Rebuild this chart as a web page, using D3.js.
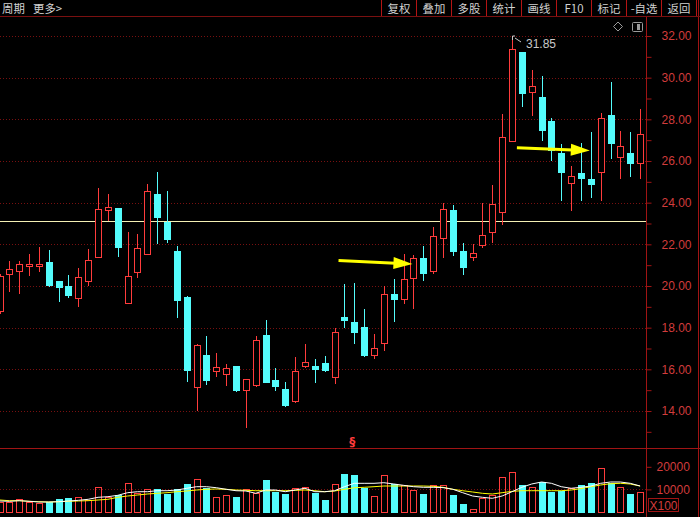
<!DOCTYPE html>
<html><head><meta charset="utf-8">
<script src="https://cdn.jsdelivr.net/npm/d3@7"></script>
<style>html,body{margin:0;padding:0;background:#000;overflow:hidden}</style>
</head><body>
<svg id="c" width="700" height="517"></svg>
<script>
// ---- data ----
const opens  = [18.82,20.60,20.70,20.94,20.98,21.15,20.22,19.98,19.42,20.26,21.41,23.65,23.74,19.18,20.65,21.53,24.42,23.05,21.70,19.45,15.13,16.70,15.90,15.77,16.17,14.99,15.26,17.66,15.50,15.07,14.46,16.14,16.17,16.30,15.63,18.49,18.27,18.01,16.70,17.26,19.61,19.37,20.38,21.34,20.70,22.30,23.65,21.70,21.41,21.98,22.57,23.53,26.98,31.25,29.30,29.09,27.94,26.40,24.96,25.44,25.13,25.49,28.21,26.18,26.37,25.89];
const highs  = [20.60,21.21,21.18,21.54,21.89,21.74,20.25,20.54,20.86,21.77,24.70,24.42,23.74,22.61,22.50,24.90,25.46,24.57,21.93,19.50,17.23,17.61,16.78,16.27,16.17,15.53,17.58,18.38,16.06,15.39,16.57,17.23,16.49,16.62,17.98,20.11,20.14,18.91,17.71,19.98,20.33,21.54,21.50,21.93,22.85,24.00,23.89,22.06,22.02,23.97,24.85,28.24,31.85,31.25,30.37,30.08,28.05,26.82,25.76,26.88,27.41,28.29,29.81,27.44,27.41,28.48];
const lows   = [18.70,19.78,19.66,20.54,20.74,19.98,19.26,19.47,19.02,20.06,21.41,23.17,21.45,19.18,20.43,21.53,22.06,22.09,18.49,15.42,14.03,15.29,15.69,15.26,14.94,13.23,15.18,15.37,15.02,14.25,14.41,16.09,15.37,15.93,15.34,18.03,17.26,16.62,16.54,16.94,18.30,19.18,18.94,20.30,20.62,21.41,21.50,20.59,21.26,21.89,22.09,22.98,26.98,28.64,28.21,27.01,26.05,24.13,23.65,24.13,24.26,24.13,26.13,25.20,25.29,25.18];
const closes = [20.46,20.83,21.05,21.05,21.05,20.06,19.93,19.58,20.43,21.26,23.69,23.78,21.89,20.50,21.82,24.58,23.33,22.26,19.34,15.98,17.18,15.50,16.11,16.06,15.02,15.53,17.42,15.37,15.18,14.30,15.93,16.35,16.03,15.98,17.79,18.38,17.77,16.67,17.02,19.61,19.37,20.33,21.34,20.62,22.42,23.69,21.70,20.93,21.58,22.46,23.94,27.14,31.36,29.28,29.60,27.49,26.53,25.49,25.29,25.18,24.89,28.05,26.85,26.74,25.92,27.29];
const volumes = [4560,4420,5620,4420,4120,4560,5620,6060,6500,5310,10930,6770,7520,12700,8540,10040,10040,7960,10040,12390,14470,10490,6500,7520,6500,10040,8270,14160,8980,7960,10490,10930,8540,5310,12390,16810,16370,10490,7080,16370,12390,11950,9730,7960,11950,11950,7520,3540,1190,6060,7520,15350,17570,11950,10930,13410,8980,9420,10490,11950,12700,19340,12960,10930,7960,8720];
const volMA5  = [4870,4730,5000,4730,4420,4420,4560,4870,5160,5620,6500,6770,7380,8540,8980,8980,9420,9420,9730,10490,11200,11200,10750,10040,9420,9290,8270,9730,9730,8980,9730,10490,8980,8980,9420,11200,12700,12700,12700,12960,12390,11800,11200,10930,10930,10790,10040,8540,7080,6500,6060,7080,8980,10930,12390,13270,12700,11200,10490,10930,11500,12700,13270,13270,12700,11500];
const volMA10 = [5310,5000,5000,4730,4560,4420,4560,4730,4870,5000,5310,5620,6500,7080,7520,7960,8270,8540,8980,9290,9730,10040,10180,10040,9730,9590,9420,9420,9420,9420,9590,9730,9420,8980,9290,10040,10750,10930,11200,11500,11500,11500,11500,11500,11350,10930,10040,9420,8850,8270,7960,8540,9130,9420,9420,9420,9420,9420,9730,10330,11200,11950,12520,12700,12390,11500];
const priceTicks = [14,16,18,20,22,24,26,28,30,32];
const priceMinorTicks = [13,14,15,16,17,18,19,20,21,22,23,24,25,26,27,28,29,30,31,32];
const volTicks = [10000,20000];
const toolbarLeft = ["周期","更多>"];
const toolbarRight = ["复权","叠加","多股","统计","画线","F10","标记","-自选","返回"];
const refLineValue = 23.12;
const highLabel = "31.85";
const highIndex = 52;
const arrowFrom = [[34.4,21.22],[52.5,26.64]];
const arrowTo   = [[41.9,21.06],[59.9,26.50]];
const markerIndex = 35.8;

// ---- drawing ----
const W=700,H=517;
const RED="#ff3c3c", CYAN="#54fcfc", AXIS="#a01414", GRID="#781010", TXT="#d23c3c";
const svg=d3.select("#c");
svg.append("rect").attr("width",W).attr("height",H).attr("fill","#000");
const n=closes.length;
const x=d3.scaleLinear().domain([0,n-1]).range([-0.5,640.1]);
const y=d3.scaleLinear().domain([14,32]).range([411,36]);
const yv=d3.scaleLinear().domain([0,20000]).range([512,466.8]);
const px=v=>Math.round(v)+0.5;

const defs=svg.append("defs");
defs.append("clipPath").attr("id","mainClip").append("rect").attr("x",0).attr("y",17).attr("width",646).attr("height",431);
defs.append("clipPath").attr("id","volClip").append("rect").attr("x",0).attr("y",449).attr("width",646).attr("height",68);

// grid
svg.append("g").selectAll("line").data(priceTicks).join("line")
  .attr("x1",0).attr("x2",646).attr("y1",d=>px(y(d))).attr("y2",d=>px(y(d)))
  .attr("stroke",GRID).attr("stroke-dasharray","1,2");
svg.append("g").selectAll("line").data([10000]).join("line")
  .attr("x1",0).attr("x2",646).attr("y1",d=>px(yv(d))).attr("y2",d=>px(yv(d)))
  .attr("stroke",GRID).attr("stroke-dasharray","1,2");

// reference line
svg.append("line").attr("x1",0).attr("x2",646)
  .attr("y1",px(y(refLineValue))).attr("y2",px(y(refLineValue)))
  .attr("stroke","#f4f0b4").attr("stroke-width",1);

// candles
const main=svg.append("g").attr("clip-path","url(#mainClip)");
const idx=d3.range(n);
const up=i=>closes[i]>=opens[i];
main.selectAll("line.wk").data(idx).join("line").attr("class","wk")
  .attr("x1",i=>px(x(i))).attr("x2",i=>px(x(i)))
  .attr("y1",i=>Math.round(y(highs[i]))).attr("y2",i=>Math.round(y(lows[i]))+1)
  .attr("stroke",i=>up(i)?RED:CYAN);
main.selectAll("rect.up").data(idx.filter(up)).join("rect").attr("class","up")
  .attr("x",i=>Math.round(x(i))-3+0.5).attr("width",6)
  .attr("y",i=>Math.round(y(closes[i]))+0.5)
  .attr("height",i=>Math.max(1,Math.round(y(opens[i]))-Math.round(y(closes[i]))))
  .attr("fill","#000").attr("stroke",RED);
main.selectAll("rect.dn").data(idx.filter(i=>!up(i))).join("rect").attr("class","dn")
  .attr("x",i=>Math.round(x(i))-3).attr("width",7)
  .attr("y",i=>Math.round(y(opens[i])))
  .attr("height",i=>Math.max(2,Math.round(y(closes[i]))-Math.round(y(opens[i]))+1))
  .attr("fill",CYAN);

// high label
const hx=Math.round(x(highIndex)), hy=Math.round(y(highs[highIndex]));
svg.append("path").attr("d",`M${hx+0.5},${hy+1} L${hx+0.5},${hy-3} L${hx+3},${hy-3} M${hx+3},${hy-1} L${hx+9},${hy+3}`)
  .attr("stroke","#c8c8c8").attr("fill","none");
svg.append("text").attr("x",hx+14).attr("y",hy+8.5).text(highLabel)
  .attr("fill","#c8c8c8").attr("font-family","'Liberation Sans',Arial,sans-serif").attr("font-size",12);

// arrows
arrowFrom.forEach((f,k)=>{
  const t=arrowTo[k];
  const x1=x(f[0]),y1=y(f[1]),x2=x(t[0]),y2=y(t[1]);
  const L=Math.hypot(x2-x1,y2-y1), ux=(x2-x1)/L, uy=(y2-y1)/L;
  const hl=19, hw=6;
  const bx=x2-ux*hl, by=y2-uy*hl;
  svg.append("line").attr("x1",x1).attr("y1",y1).attr("x2",bx+ux*2).attr("y2",by+uy*2)
    .attr("stroke","#ffff00").attr("stroke-width",3);
  svg.append("path").attr("d",`M${x2},${y2} L${bx-uy*hw},${by+ux*hw} L${bx+uy*hw},${by-ux*hw} Z`).attr("fill","#ffff00");
});

// marker
svg.append("text").attr("x",x(markerIndex)).attr("y",446).attr("text-anchor","middle")
  .attr("fill",RED).attr("font-size",12).attr("font-weight","bold").attr("font-family","'DejaVu Sans',sans-serif").text("§");

// volume
const vol=svg.append("g").attr("clip-path","url(#volClip)");
vol.selectAll("rect.vu").data(idx.filter(up)).join("rect").attr("class","vu")
  .attr("x",i=>Math.round(x(i))-3+0.5).attr("width",6)
  .attr("y",i=>Math.round(yv(volumes[i]))+0.5)
  .attr("height",i=>Math.round(yv(0))-Math.round(yv(volumes[i])))
  .attr("fill","none").attr("stroke",RED);
vol.selectAll("rect.vd").data(idx.filter(i=>!up(i))).join("rect").attr("class","vd")
  .attr("x",i=>Math.round(x(i))-3).attr("width",7)
  .attr("y",i=>Math.round(yv(volumes[i])))
  .attr("height",i=>Math.round(yv(0))-Math.round(yv(volumes[i]))+1)
  .attr("fill",CYAN);
const ln=arr=>d3.line().x((d,i)=>x(i)).y(d=>yv(d))(arr);
vol.append("path").attr("d",ln(volMA10)).attr("fill","none").attr("stroke","#ffff00").attr("stroke-width",1);
vol.append("path").attr("d",ln(volMA5)).attr("fill","none").attr("stroke","#ffffff").attr("stroke-width",1);

// panel lines
svg.append("line").attr("x1",0).attr("x2",700).attr("y1",448.5).attr("y2",448.5).attr("stroke",AXIS);
svg.append("line").attr("x1",646.5).attr("x2",646.5).attr("y1",17).attr("y2",517).attr("stroke",AXIS);
svg.append("line").attr("x1",698.5).attr("x2",698.5).attr("y1",0).attr("y2",517).attr("stroke",AXIS);

// price axis
const pa=svg.append("g").attr("transform","translate(646.5,0)")
  .call(d3.axisRight(y).tickValues(priceMinorTicks).tickSize(5).tickPadding(10)
    .tickFormat(d=>priceTicks.includes(d)?d.toFixed(2):""));
pa.select(".domain").remove();
pa.selectAll("line").attr("stroke",AXIS);
pa.selectAll("text").attr("fill",TXT).attr("font-size",12).attr("font-family","'Liberation Sans',Arial,sans-serif");

const va=svg.append("g").attr("transform","translate(646.5,0)")
  .call(d3.axisRight(yv).tickValues(volTicks).tickSize(5).tickPadding(5).tickFormat(d=>String(d)));
va.select(".domain").remove();
va.selectAll("line").attr("stroke",AXIS);
va.selectAll("text").attr("fill",TXT).attr("font-size",12).attr("font-family","'Liberation Sans',Arial,sans-serif");
svg.append("rect").attr("x",648.5).attr("y",498.5).attr("width",30).attr("height",13).attr("fill","none").attr("stroke",AXIS);
svg.append("text").attr("x",663.5).attr("y",509.5).attr("text-anchor","middle").text("X100")
  .attr("fill",TXT).attr("font-size",12).attr("font-family","'Liberation Sans',Arial,sans-serif");

// toolbar
svg.append("line").attr("x1",0).attr("x2",700).attr("y1",16.5).attr("y2",16.5).attr("stroke","#7a1010");
const tb=d3.scaleBand().domain(toolbarRight).range([381.5,696.5]);
svg.append("g").selectAll("line").data(toolbarRight.concat(["_end"])).join("line")
  .attr("x1",(d,i)=>i<toolbarRight.length?tb(d):696.5).attr("x2",(d,i)=>i<toolbarRight.length?tb(d):696.5)
  .attr("y1",0).attr("y2",16).attr("stroke","#b41414");
svg.append("g").selectAll("text").data(toolbarRight).join("text")
  .attr("x",d=>tb(d)+tb.bandwidth()/2).attr("y",13.2).attr("text-anchor","middle")
  .attr("fill","#d2d2d2").attr("font-size",11.4).attr("font-family","'Noto Sans CJK SC',sans-serif").text(d=>d);
svg.append("g").selectAll("text").data(toolbarLeft).join("text")
  .attr("x",(d,i)=>[2,33][i]).attr("y",13.2)
  .attr("fill","#d2d2d2").attr("font-size",11.4).attr("font-family","'Noto Sans CJK SC',sans-serif").text(d=>d);

// icons
svg.append("path").attr("d","M618,22 L622.5,26.5 L618,31 L613.5,26.5 Z").attr("fill","none").attr("stroke","#9a9a9a");
svg.append("rect").attr("x",632.5).attr("y",22.5).attr("width",10).attr("height",9).attr("rx",1).attr("fill","none").attr("stroke","#9a9a9a");
svg.append("rect").attr("x",637).attr("y",24).attr("width",3).attr("height",6).attr("fill","#9a9a9a");
</script>
</body></html>
